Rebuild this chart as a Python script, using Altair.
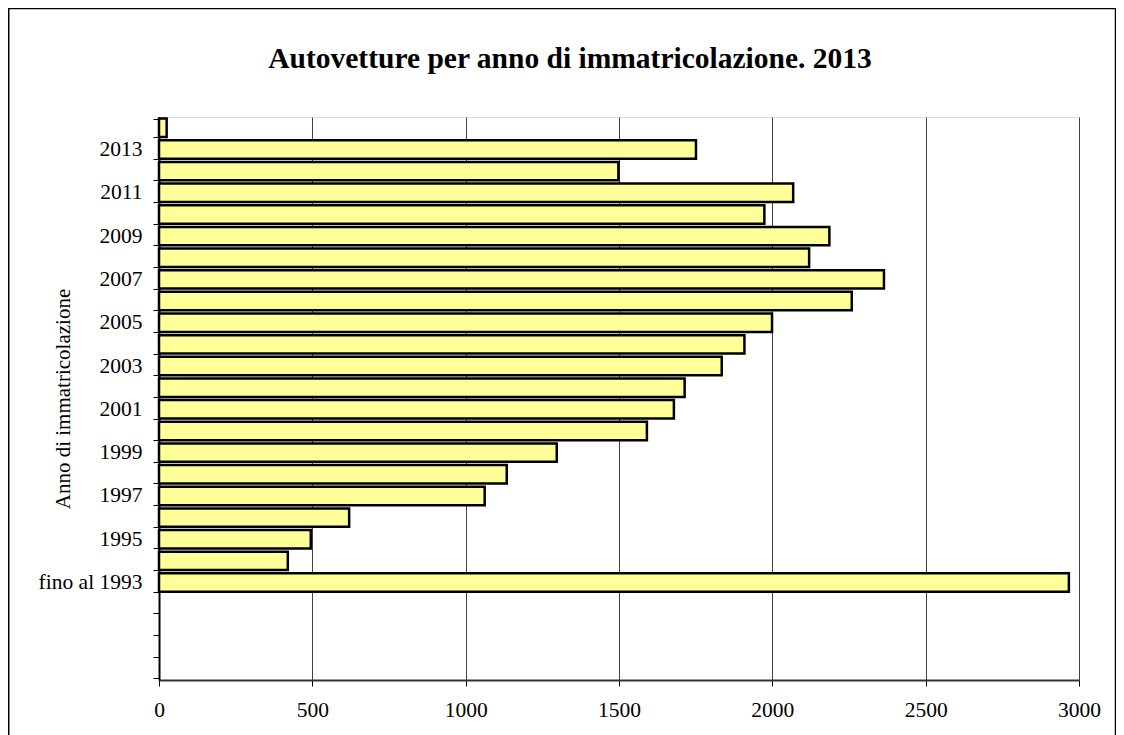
import altair as alt
import pandas as pd

# Data
categories = ["2014", "2013", "2012", "2011", "2010", "2009", "2008", "2007", "2006",
              "2005", "2004", "2003", "2002", "2001", "2000", "1999", "1998", "1997",
              "1996", "1995", "1994", "fino al 1993"]
values = [25, 1751, 1498, 2068, 1974, 2186, 2120, 2364, 2259,
          1999, 1909, 1835, 1714, 1679, 1591, 1297, 1134, 1062,
          620, 495, 420, 2967]
empty_slots = ["vuoto1", "vuoto2", "vuoto3", "vuoto4"]
shown_labels = ["2013", "2011", "2009", "2007", "2005", "2003", "2001",
                "1999", "1997", "1995", "fino al 1993"]
x_ticks = [0, 500, 1000, 1500, 2000, 2500, 3000]
chart_title = "Autovetture per anno di immatricolazione. 2013"

df = pd.DataFrame({"anno": categories, "valore": values})

label_list = ",".join("'" + s + "'" for s in shown_labels)
label_expr = f"indexof([{label_list}], datum.label) >= 0 ? datum.label : ''"

FONT = "Liberation Serif"

bars = alt.Chart(df).mark_bar(
    fill="#FFFF99", stroke="black", strokeWidth=2.5
).encode(
    x=alt.X(
        "valore:Q",
        scale=alt.Scale(domain=[0, 3000], nice=False),
        axis=alt.Axis(
            values=x_ticks, title=None, grid=True, gridColor="#444", gridWidth=1,
            tickSize=6, tickColor="black", domainColor="#333", domainWidth=2,
            labelFont=FONT, labelFontSize=21.5, labelColor="black", labelPadding=13,
            labelFlush=False, format="d"
        ),
    ),
    y=alt.Y(
        "anno:N",
        sort=None,
        scale=alt.Scale(domain=categories + empty_slots, paddingInner=0.15, paddingOuter=0.075),
        axis=alt.Axis(
            tickBand="extent", labelExpr=label_expr, tickSize=6, tickColor="black",
            domainColor="black", domainWidth=2, labelFont=FONT, labelFontSize=21.5,
            labelColor="black", labelPadding=11, grid=False,
            title="Anno di immatricolazione", titleX=-96, titleY=281.5, titleAngle=-90,
            titleAlign="center", titleBaseline="middle", titleFont=FONT,
            titleFontSize=21, titleFontWeight="normal", titleColor="black"
        ),
    ),
)

title_layer = alt.Chart(pd.DataFrame({"t": [chart_title]})).mark_text(
    font=FONT, fontSize=29.5, fontWeight="bold", color="black",
    align="center", baseline="alphabetic"
).encode(
    text="t:N", x=alt.value(411), y=alt.value(-49)
)

frame = alt.Chart(pd.DataFrame({"k": [0]})).mark_rect(
    fillOpacity=0, stroke="black", strokeWidth=1.5
).encode(
    x=alt.value(-150.25), x2=alt.value(956.5), y=alt.value(-108.5), y2=alt.value(640)
)

chart = alt.layer(bars, title_layer, frame).properties(
    width=920,
    height=563,
    autosize=alt.AutoSizeParams(type="none"),
    padding={"left": 151, "top": 109, "right": 37, "bottom": 55},
).configure_view(
    stroke="#888", strokeWidth=2
).configure(background="white")

chart.save("out.html", embed_options={"renderer": "svg", "actions": False})
